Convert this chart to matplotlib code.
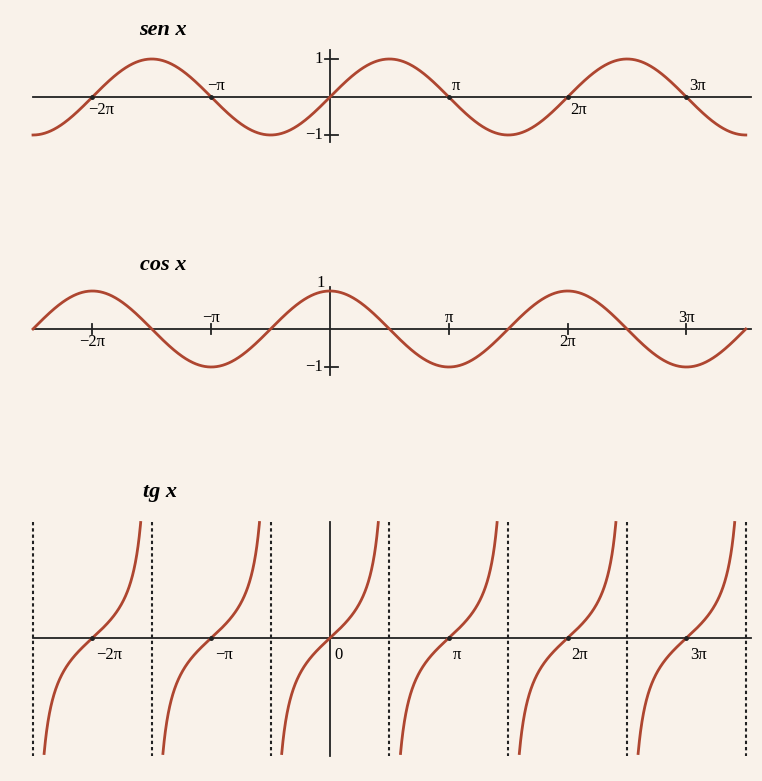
import numpy as np
import matplotlib.pyplot as plt

# ---- data ----
x_start_pi = -2.5   # curve domain in units of pi
x_end_pi = 3.5
tick_mults = [-2, -1, 1, 2, 3]
tick_labels = ['\u22122\u03c0', '\u2212\u03c0', '\u03c0', '2\u03c0', '3\u03c0']
label_above = [False, True, True, False, True]
titles = ['sen x', 'cos x', 'tg x']
asymptote_mults = [-2.5, -1.5, -0.5, 0.5, 1.5, 2.5, 3.5]
tan_limit = 3.3

BG = '#F9F2EA'
CURVE = '#AE4630'
AX = '#222222'
serif = ['Liberation Serif', 'DejaVu Serif']

W, H = 762, 781
fig = plt.figure(figsize=(W / 100, H / 100), dpi=100)
fig.patch.set_facecolor(BG)

PI_PX = 118.8
ORIGIN_PX = 330
xmin = (0 - ORIGIN_PX) / PI_PX * np.pi
xmax = (W - ORIGIN_PX) / PI_PX * np.pi
px = np.pi / PI_PX  # one pixel in data x units


def make_axes(top_px, bottom_px, zero_px, unit_px):
    ax = fig.add_axes([0, 1 - bottom_px / H, 1, (bottom_px - top_px) / H])
    ax.set_xlim(xmin, xmax)
    ax.set_ylim(-(bottom_px - zero_px) / unit_px, (zero_px - top_px) / unit_px)
    ax.axis('off')
    ax.patch.set_alpha(0)
    return ax


axis_x0 = (33 - ORIGIN_PX) * px
axis_x1 = (751 - ORIGIN_PX) * px
LBL = 12
TTL = 16

# ---------------- sine ----------------
ax1 = make_axes(10, 160, 97, 38)
x = np.linspace(x_start_pi * np.pi, x_end_pi * np.pi, 1200)
ax1.plot([axis_x0, axis_x1], [0, 0], color=AX, lw=1.3, zorder=1)
ax1.plot([0, 0], [(97 - 50) / 38, -(142 - 97) / 38], color=AX, lw=1.3, zorder=1)
ax1.plot(x, np.sin(x), color=CURVE, lw=2.0, zorder=2)
for yv in (1, -1):
    ax1.plot([-5 * px, 8 * px], [yv, yv], color=AX, lw=1.3)
ax1.text(-7 * px, 1.0, '1', family=serif, fontsize=LBL, ha='right', va='center')
ax1.text(-7 * px, -1.0, '\u22121', family=serif, fontsize=LBL, ha='right', va='center')
for m, lab, up in zip(tick_mults, tick_labels, label_above):
    ax1.plot([m * np.pi], [0], 'o', ms=2.5, color=AX, zorder=3)
    off = -4 * px if m < 0 else 3 * px
    ax1.text(m * np.pi + off, 0.08 if up else -0.12, lab, family=serif,
             fontsize=LBL, ha='left', va='bottom' if up else 'top')
ax1.text((163 - ORIGIN_PX) * px, (97 - 30) / 38, titles[0], family=serif,
         fontsize=TTL, fontweight='bold', style='italic', ha='center', va='center')

# ---------------- cosine ----------------
ax2 = make_axes(245, 395, 329, 38)
ax2.plot([axis_x0, axis_x1], [0, 0], color=AX, lw=1.3, zorder=1)
ax2.plot([0, 0], [(329 - 287) / 38, -(375 - 329) / 38], color=AX, lw=1.3, zorder=1)
ax2.plot(x, np.cos(x), color=CURVE, lw=2.0, zorder=2)
ax2.plot([-5 * px, 8 * px], [-1, -1], color=AX, lw=1.3)
ax2.text(-5 * px, 1.2, '1', family=serif, fontsize=LBL, ha='right', va='center')
ax2.text(-7 * px, -1.0, '\u22121', family=serif, fontsize=LBL, ha='right', va='center')
for m, lab, up in zip(tick_mults, tick_labels, label_above):
    ax2.plot([m * np.pi, m * np.pi], [-0.13, 0.13], color=AX, lw=1.3, zorder=3)
    ax2.text(m * np.pi, 0.08 if up else -0.14, lab, family=serif,
             fontsize=LBL, ha='center', va='bottom' if up else 'top')
ax2.text((163 - ORIGIN_PX) * px, (329 - 265) / 38, titles[1], family=serif,
         fontsize=TTL, fontweight='bold', style='italic', ha='center', va='center')

# ---------------- tangent ----------------
TU = 35
ax3 = make_axes(470, 775, 638, TU)
ytop = (638 - 522) / TU
ybot = -(756 - 638) / TU
ax3.plot([axis_x0, axis_x1], [0, 0], color=AX, lw=1.3, zorder=1)
ax3.plot([0, 0], [ytop, ybot], color=AX, lw=1.3, zorder=1)
for a in asymptote_mults:
    ax3.plot([a * np.pi, a * np.pi], [ytop, ybot], color=AX, lw=1.5,
             linestyle=(0, (1.6, 1.4)), zorder=1)
lim = np.arctan(tan_limit)
for k in range(-2, 4):
    t = np.linspace(-lim, lim, 400)
    xx = k * np.pi + t
    ax3.plot(xx, np.tan(t), color=CURVE, lw=2.0, zorder=2)
    if k != 0:
        ax3.plot([k * np.pi], [0], 'o', ms=2.5, color=AX, zorder=3)
for m, lab in zip(tick_mults, tick_labels):
    ax3.text(m * np.pi + 4 * px, -0.25, lab, family=serif,
             fontsize=LBL, ha='left', va='top')
ax3.text(4 * px, -0.25, '0', family=serif, fontsize=LBL, ha='left', va='top')
ax3.text((160 - ORIGIN_PX) * px, (638 - 492) / TU, titles[2], family=serif,
         fontsize=TTL, fontweight='bold', style='italic', ha='center', va='center')

fig.savefig('out.png', dpi=100, facecolor=BG)
